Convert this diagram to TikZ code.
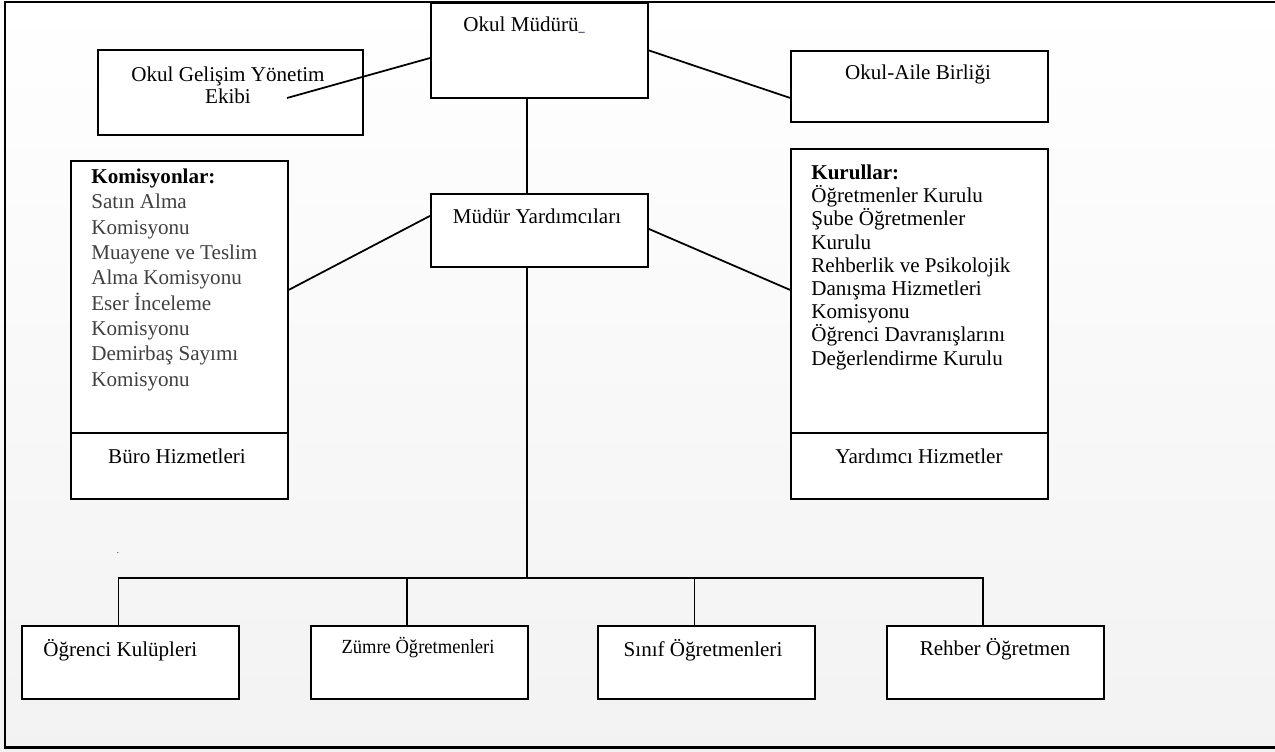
\documentclass[tikz,border=0pt]{standalone}
\usepackage{fontspec}
\setmainfont{Liberation Serif}
\usepackage{graphicx}
\usepackage{tikz}
\usetikzlibrary{positioning}

\definecolor{listgray}{HTML}{404040}
\definecolor{markblue}{HTML}{1F2A4F}
\newcommand\pix{0.02cm} % one pixel of the page

\begin{document}
\begin{tikzpicture}[
    x = 0.02cm, y = -0.02cm, % unit = one pixel, y runs down
    box/.style = {draw, fill=white, line width=1pt, inner sep=0pt, anchor=north west,
                  minimum width=217*\pix, minimum height=73*\pix},
    link/.style = {line width=1pt},
    txt/.style = {inner sep=0pt, font=\fontsize{12}{14.4}\selectfont}
    ]

    \useasboundingbox (0,0) rectangle (1275,751);
    \shade[top color=white, bottom color=black!5] (0,0) rectangle (1275,751);
    \draw[line width=1.7pt] (5,2) rectangle (1310,747);

    % top row
    \node[box, minimum height=95*\pix] (mudur) at (430,2) {};
    \node[txt, anchor=base west] (mudurtxt) at (463,31) {Okul Müdürü{\color{markblue}\fontsize{7}{7}\selectfont\textbf{\_}}};

    \node[box, minimum width=265*\pix, minimum height=85*\pix] (ogye) at (97,49) {};
    \node[txt, anchor=base, align=center, font=\fontsize{12}{12}\selectfont] (ogyetxt) at (228,103) {Okul Gelişim Yönetim\\Ekibi};
    \coordinate (ogyetip) at (287,98);

    \node[box, minimum width=257*\pix, minimum height=71*\pix] (oab) at (790,50) {};
    \node[txt, anchor=base] (oabtxt) at (918,79) {Okul-Aile Birliği};

    % middle row
    \node[box] (yard) at (430,193) {};
    \node[txt, anchor=base] (yardtxt) at (537,223) {Müdür Yardımcıları};

    \node[box, minimum height=338*\pix] (kom) at (70,160) {};
    \draw[link] ([yshift=-273*\pix]kom.north west) -- ([yshift=-273*\pix]kom.north east);
    \node[txt, anchor=base west, align=left, text=listgray] (komtxt) at (91,386)
        {\textcolor{black}{\textbf{Komisyonlar:}}\\Satın Alma\\Komisyonu\\Muayene ve Teslim\\Alma Komisyonu\\Eser İnceleme\\Komisyonu\\Demirbaş Sayımı\\Komisyonu};
    \node[txt, anchor=base] (burotxt) at (177,463) {Büro Hizmetleri};

    \node[box, minimum width=257*\pix, minimum height=350*\pix] (kur) at (790,148) {};
    \draw[link] ([yshift=-285*\pix]kur.north west) -- ([yshift=-285*\pix]kur.north east);
    \node[txt, anchor=base west, align=left, font=\fontsize{12}{13.2}\selectfont] (kurtxt) at (811,365)
        {\textbf{Kurullar:}\\Öğretmenler Kurulu\\Şube Öğretmenler\\Kurulu\\Rehberlik ve Psikolojik\\Danışma Hizmetleri\\Komisyonu\\Öğrenci Davranışlarını\\Değerlendirme Kurulu};
    \node[txt, anchor=base] (yhtxt) at (919,463) {Yardımcı Hizmetler};

    % bottom row
    \node[box] (ogr) at (21,625) {};
    \node[txt, anchor=base west] (ogrtxt) at (43,656) {Öğrenci Kulüpleri};
    \node[box] (zum) at (310,625) {};
    \node[txt, anchor=base] (zumtxt) at (418,653) {\scalebox{0.88}[0.95]{Zümre Öğretmenleri}};
    \node[box] (sin) at (597,625) {};
    \node[txt, anchor=base] (sintxt) at (703,656) {Sınıf Öğretmenleri};
    \node[box] (reh) at (886,625) {};
    \node[txt, anchor=base] (rehtxt) at (995,655) {Rehber Öğretmen};

    \node[inner sep=0pt, font=\fontsize{5}{5}\selectfont] (dot) at (118,553) {.};

    % connectors
    \coordinate (bus) at (527,578);
    \draw[link] (mudur.184.5) -- (ogyetip);
    \draw[link] (mudur.east) -- ([yshift=-11.5*\pix]oab.west);
    \draw[link] (bus |- yard.north) -- (bus |- mudur.south);
    \draw[link] ([yshift=14.5*\pix]yard.west) -- ([yshift=40*\pix]kom.east);
    \draw[link] ([yshift=1.5*\pix]yard.east) -- ([yshift=34*\pix]kur.west);
    \draw[link] (bus |- yard.south) -- (bus);
    \draw[link] ([xshift=-12*\pix]ogr.north) |- (bus);
    \draw[link] ([xshift=-12.5*\pix]reh.north) |- (bus);
    \draw[link] ([xshift=-12.5*\pix]zum.north) -- ([xshift=-12.5*\pix]zum.north |- bus);
    \draw[link] ([xshift=-12*\pix]sin.north) -- ([xshift=-12*\pix]sin.north |- bus);
\end{tikzpicture}
\end{document}
